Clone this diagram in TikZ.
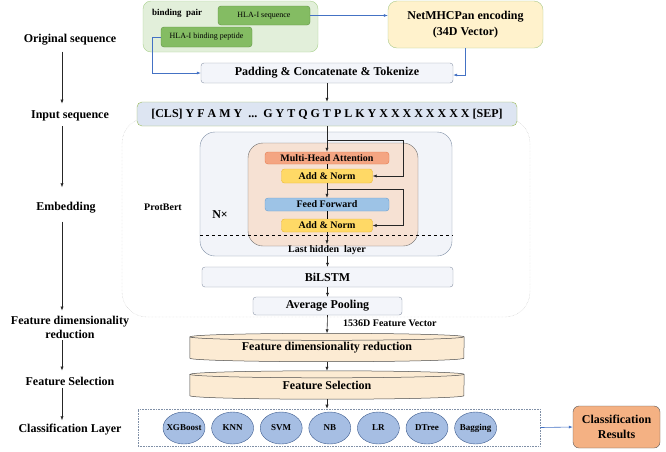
\documentclass[tikz,border=0pt]{standalone}
\usepackage{fontspec}
\setmainfont{Liberation Serif}
\usetikzlibrary{arrows.meta, positioning, shapes.geometric, calc, backgrounds}
\definecolor{pairfill}{HTML}{E2EFDA}
\definecolor{pairdraw}{HTML}{A9D18E}
\definecolor{hlafill}{HTML}{84BC63}
\definecolor{hladraw}{HTML}{5F9341}
\definecolor{netfill}{HTML}{FFF2CC}
\definecolor{netdraw}{HTML}{A9C98A}
\definecolor{linkblue}{HTML}{4472C4}
\definecolor{padfill}{HTML}{F3F5FA}
\definecolor{boxgray}{HTML}{8C96A8}
\definecolor{seqfill}{HTML}{DDE5F2}
\definecolor{seqdraw}{HTML}{9BBB59}
\definecolor{bertfill}{HTML}{F2F4F9}
\definecolor{bertdraw}{HTML}{7F8FA6}
\definecolor{layerfill}{HTML}{F6E1D3}
\definecolor{layerdraw}{HTML}{6F6F6F}
\definecolor{mhafill}{HTML}{F4A582}
\definecolor{mhadraw}{HTML}{E57B50}
\definecolor{normfill}{HTML}{FFD966}
\definecolor{normdraw}{HTML}{EDB92E}
\definecolor{fffill}{HTML}{9DC3E6}
\definecolor{ffdraw}{HTML}{6A9FD0}
\definecolor{cylfill}{HTML}{FCEBD3}
\definecolor{modfill}{HTML}{A6BEE3}
\definecolor{moddraw}{HTML}{3E5C8E}
\definecolor{resfill}{HTML}{F4B183}

\begin{document}
\begin{tikzpicture}[x=1pt, y=-1pt,
  every node/.style={font=\fontsize{12}{13}\selectfont\bfseries},
  stage/.style={align=center, inner sep=1pt},
  small/.style={font=\fontsize{10}{11}\selectfont\bfseries, inner sep=1pt},
  plainbox/.style={rectangle, rounded corners=3pt, draw=boxgray, fill=padfill, inner sep=0pt},
  hlabox/.style={rectangle, rounded corners=3pt, draw=hladraw, fill=hlafill, inner sep=0pt, font=\fontsize{8}{9}\selectfont},
  block/.style={rectangle, rounded corners=3pt, inner sep=0pt, font=\fontsize{10}{11}\selectfont\bfseries},
  cyl/.style={rectangle, inner sep=0pt, minimum width=274pt, minimum height=21pt},
  model/.style={ellipse, draw=moddraw, fill=modfill, minimum width=42pt, minimum height=32pt, inner xsep=-4pt, inner ysep=0pt, font=\fontsize{9}{10}\selectfont\bfseries},
  flow/.style={-{Latex[length=4pt,width=3.2pt]}, line width=0.6pt, black!85},
  link/.style={-{Latex[length=4pt,width=3pt]}, line width=0.6pt, linkblue},
]
\useasboundingbox (0,0) rectangle (666,451);

% Stage labels
\node[stage] (l1) at (70,40) {Original sequence};
\node[stage] (l2) at (70,116) {Input sequence};
\node[stage] (l3) at (66,208) {Embedding};
\node[stage, font=\fontsize{12}{14}\selectfont\bfseries] (l4) at (70,327) {Feature dimensionality\\reduction};
\node[stage] (l5) at (70,381) {Feature Selection};
\node[stage] (l6) at (70,430) {Classification Layer};
\draw[flow, shorten <=5pt, shorten >=6pt] ([xshift=-8pt]l1.south) -- ([xshift=-8pt]l2.north);
\draw[flow, shorten <=4pt, shorten >=14pt] ([xshift=-8pt]l2.south) -- ([xshift=-4pt]l3.north);
\draw[flow, shorten <=7pt, shorten >=4pt] ([xshift=-4pt]l3.south) -- ([xshift=-8pt]l4.north);
\draw[flow, shorten <=1pt, shorten >=5pt] ([xshift=-8pt]l4.south) -- ([xshift=-8pt]l5.north);
\draw[flow, shorten <=2pt, shorten >=3pt] ([xshift=-8pt]l5.south) -- ([xshift=-8pt]l6.north);

% Binding pair and encoding
\node[rectangle, rounded corners=8pt, draw=pairdraw, fill=pairfill, minimum width=175pt, minimum height=51pt] (pair) at (230.5,26.5) {};
\node[anchor=west, inner sep=0pt, font=\fontsize{9}{10}\selectfont\bfseries] (pairlbl) at (152,13) {binding\ \ pair};
\node[hlabox, minimum width=92pt, minimum height=19pt] (hlaseq) at (264,15.5) {HLA-I sequence};
\node[hlabox, minimum width=91pt, minimum height=20pt] (hlapep) at (206.5,37) {HLA-I binding peptide};
\node[rectangle, rounded corners=9pt, draw=netdraw, fill=netfill, minimum width=155pt, minimum height=47pt, align=center, font=\fontsize{12}{16}\selectfont\bfseries] (net) at (465.5,24.5) {NetMHCPan encoding\\(34D Vector)};
\node[plainbox, minimum width=252pt, minimum height=20pt] (pad) at (327,73) {Padding \& Concatenate \& Tokenize};
\draw[link] (hlaseq.east) -- (hlaseq.east -| net.west);
\draw[link] (hlapep.west) -- ++(-9,0) |- (pad.west);
\draw[link] (net.south) |- ([yshift=-2pt]pad.east);

% Embedding
\node[rectangle, rounded corners=25pt, draw=black!25, densely dotted, fill=white, minimum width=408pt, minimum height=199pt] (emb) at (326,217.5) {};
\node[rectangle, rounded corners=5pt, draw=seqdraw, fill=seqfill, minimum width=380pt, minimum height=24pt, inner sep=0pt] (inseq) at (327,114) {[CLS] Y F A M Y \ ...\ \ G Y T Q G T P L K Y X X X X X X X X [SEP]};
\draw[flow] (pad.south) -- (inseq.north);
\node[rectangle, rounded corners=15pt, draw=bertdraw, fill=bertfill, minimum width=252pt, minimum height=124pt] (bert) at (326,194) {};
\node[rectangle, rounded corners=15pt, draw=layerdraw, fill=layerfill, minimum width=170pt, minimum height=103pt] (layer) at (333,194.5) {};
\node[small] (protbert) at (163,207) {ProtBert};
\node[inner sep=1pt] (nx) at (220,215) {N\texttimes};
\node[block, draw=mhadraw, fill=mhafill, minimum width=124pt, minimum height=12pt] (mha) at (327,158) {Multi-Head Attention};
\node[block, draw=normdraw, fill=normfill, minimum width=91pt, minimum height=14pt] (norm1) at (327,176) {Add \& Norm};
\node[block, draw=ffdraw, fill=fffill, minimum width=124pt, minimum height=13pt] (ff) at (327,204.5) {Feed Forward};
\node[block, draw=normdraw, fill=normfill, minimum width=91pt, minimum height=13pt] (norm2) at (327,225.5) {Add \& Norm};
\node[small] (lasthid) at (327,250) {Last hidden\ \ layer};
\coordinate (res1) at (327,140);
\coordinate (res2) at (327,189);
\draw[flow] (inseq.south) -- (mha.north);
\draw[line width=0.6pt] (mha) -- (norm1);
\draw[flow] (norm1) -- (ff);
\draw[line width=0.6pt] (ff) -- (norm2);
\draw[flow] (norm2.south) -- (lasthid.north);
\draw[flow] (res1) -- ++(76,0) |- (norm1.east);
\draw[flow] (res2) -- ++(76,0) |- (norm2.east);
\draw[dashed, line width=0.6pt] (bert.west |- 0,235) -- (bert.east |- 0,235);

% Pooling
\node[plainbox, minimum width=251pt, minimum height=20pt] (bilstm) at (327.5,277) {BiLSTM};
\node[plainbox, minimum width=149pt, minimum height=18pt] (avgpool) at (327.5,306) {Average Pooling};
\draw[flow] (bert.south -| bilstm.north) -- (bilstm.north);
\draw[flow] (bilstm) -- (avgpool);

% Feature cylinders
\node[cyl] (fdr) at (327,347.5) {Feature dimensionality reduction};
\node[cyl] (fsel) at (327,385) {Feature Selection};
\begin{scope}[on background layer]
\foreach \c in {fdr, fsel} {
  \draw[fill=cylfill, draw=black!70, line width=0.5pt] (\c.north west) -- (\c.south west) arc[start angle=180, end angle=360, x radius=137pt, y radius=3.5pt] -- (\c.north east) arc[start angle=0, end angle=180, x radius=137pt, y radius=3.5pt] -- cycle;
  \draw[draw=black!70, line width=0.5pt] (\c.north west) arc[start angle=180, end angle=360, x radius=137pt, y radius=3.5pt];
}
\end{scope}
\node[anchor=west, small] (vec) at (342,323) {1536D Feature Vector};
\draw[flow] (avgpool.south) -- ([yshift=3.5pt]fdr.north);
\draw[flow] ([yshift=-3.5pt]fdr.south) -- ([yshift=3.5pt]fsel.north);

% Classifiers
\node[rectangle, draw=bertdraw, densely dotted, line width=0.6pt, minimum width=402pt, minimum height=37pt] (clf) at (339,427.5) {};
\draw[flow] ([yshift=-3.5pt]fsel.south) -- (clf.north -| fsel.south);
\node[model] (m1) at (184,428) {XGBoost};
\node[model] (m2) at (232.6,428) {KNN};
\node[model] (m3) at (281.2,428) {SVM};
\node[model] (m4) at (329.8,428) {NB};
\node[model] (m5) at (378.4,428) {LR};
\node[model] (m6) at (427,428) {DTree};
\node[model] (m7) at (475.6,428) {Bagging};
\node[rectangle, rounded corners=6pt, draw=black!65, fill=resfill, minimum width=87pt, minimum height=42pt, align=center, font=\fontsize{12}{15}\selectfont\bfseries] (res) at (616.5,427) {Classification\\Results};
\draw[link] (clf.east) -- (res.west);

\end{tikzpicture}
\end{document}
